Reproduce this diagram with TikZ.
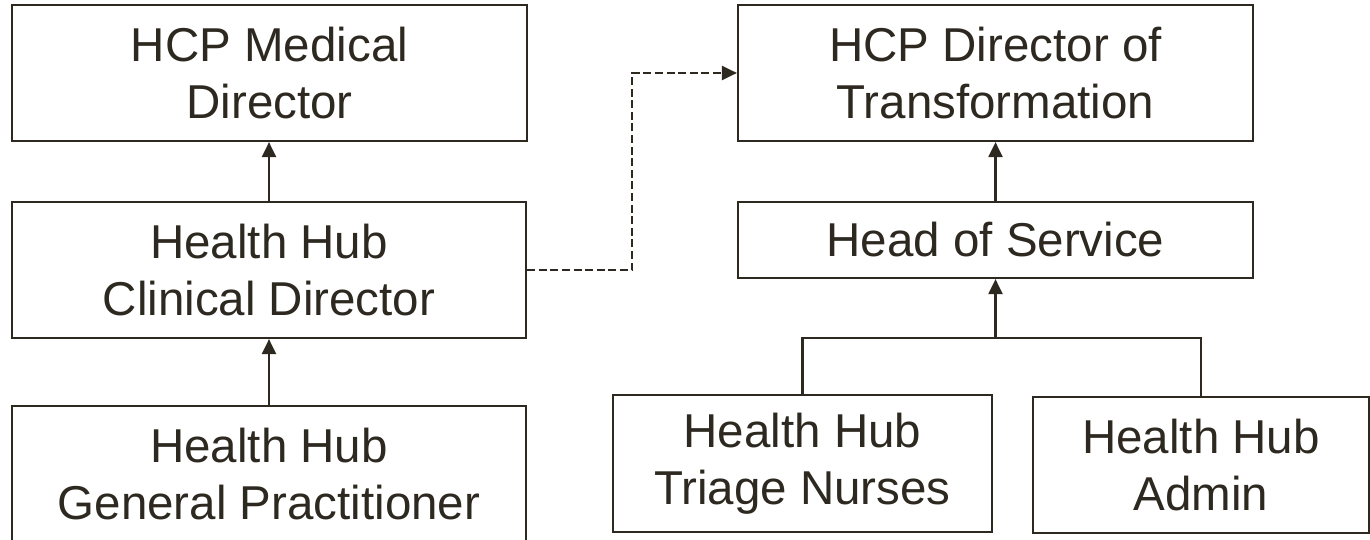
\documentclass[tikz,border=0pt]{standalone}
\usepackage{fontspec}
\setmainfont{Liberation Sans}
\usetikzlibrary{arrows.meta,positioning}
\definecolor{ink}{RGB}{45,41,33}
\begin{document}
\begin{tikzpicture}[
  x=0.5pt, y=-0.5pt,
  every node/.style={font=\fontsize{23.75pt}{28.5pt}\selectfont, text=ink},
  orgbox/.style={draw=ink, line width=1.1pt, align=center, inner sep=0pt,
    minimum width=257.5pt, minimum height=68pt},
  reports/.style={-{Triangle[length=7.5pt,width=7pt]}, draw=ink, line width=1.1pt},
  crosslink/.style={reports, dash pattern=on 4pt off 1.8pt}
]
\useasboundingbox (0,0) rectangle (1370,540);
\clip (0,0) rectangle (1370,540);
\node[orgbox] (med) at (269.5,73) {HCP Medical\\Director};
\node[orgbox, minimum width=257pt] (clin) at (269,270) {Health Hub\\Clinical Director};
\node[orgbox, minimum width=257pt] (gp) at (269,474) {Health Hub\\General Practitioner};
\node[orgbox] (trans) at (995.5,73) {HCP Director of\\Transformation};
\node[orgbox, minimum height=38pt] (head) at (995.5,240) {Head of Service};
\node[orgbox, minimum width=189.5pt, minimum height=68.5pt] (triage) at (802.5,463.5)
  {Health Hub\\Triage Nurses};
\node[orgbox, minimum width=168pt] (admin) at (1201,465) {Health Hub\\Admin};
\coordinate[below=29.5pt of head.south] (bus);
\coordinate (jog) at (632,170);
\draw[reports] (clin.north) -- (clin.north |- med.south);
\draw[reports] (gp.north) -- (gp.north |- clin.south);
\draw[reports] (head.north) -- (head.north |- trans.south);
\draw[draw=ink, line width=1.1pt] (triage.north) |- (bus) -| (admin.north);
\draw[reports] (bus) -- (head.south);
\draw[crosslink] (clin.east) -| (jog) |- (trans.west);
\end{tikzpicture}
\end{document}
